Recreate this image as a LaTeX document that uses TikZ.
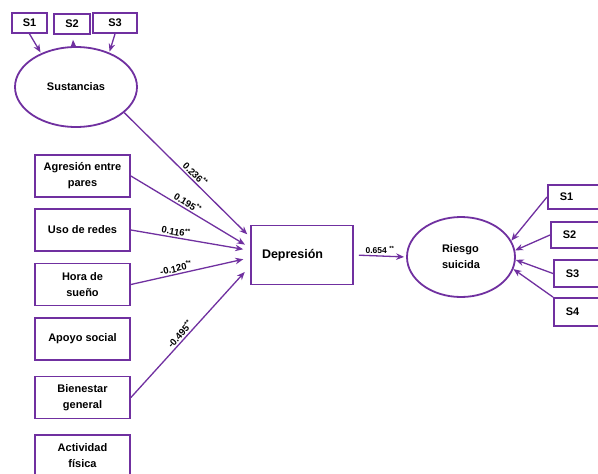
\documentclass[tikz,border=0pt]{standalone}
\usepackage{fontspec}
\setmainfont{Liberation Sans}
\usetikzlibrary{shapes.geometric,arrows.meta}
\definecolor{morado}{HTML}{7030A0}
\tikzset{
	box/.style={rectangle,draw=morado,line width=1.8pt,minimum width=95pt,minimum height=42pt,align=center,font=\fontsize{11}{16}\selectfont\bfseries},
	smallbox/.style={rectangle,draw=morado,line width=1.8pt,minimum height=20pt,inner sep=1pt,font=\fontsize{11}{13}\selectfont\bfseries},
	sidebox/.style={rectangle,draw=morado,line width=1.8pt,anchor=west,minimum width=60pt,minimum height=26pt,text width=36pt,align=left,font=\fontsize{11}{13}\selectfont\bfseries},
	latent/.style={ellipse,draw=morado,line width=1.8pt,inner sep=0pt,align=left,font=\fontsize{11}{16}\selectfont\bfseries},
	arr/.style={draw=morado,line width=1.3pt,-{Stealth[length=8pt,width=6.5pt]}},
	coef/.style={sloped,above,inner sep=1.5pt,font=\fontsize{9.5}{10}\selectfont\bfseries}
}
\begin{document}
\begin{tikzpicture}[x=1pt,y=-1pt]
	\clip (0,0) rectangle (598,474);
	\fill[white] (0,0) rectangle (598,474);
	\node (sust) at (76,87) [latent,minimum width=122pt,minimum height=80pt] {Sustancias};
	\node (s1) at (29.5,23) [smallbox,minimum width=35pt] {S1};
	\node (s2) at (72,24) [smallbox,minimum width=36pt] {S2};
	\node (s3) at (115,23) [smallbox,minimum width=44pt] {S3};
	\draw[arr,shorten >=1pt] (s1.south) -- (sust.136);
	\draw[arr,shorten >=5pt] (sust) -- (s2);
	\draw[arr,shorten >=1pt] (s3.south) -- (sust.46);

	\node (agr) at (82.5,176) [box] {Agresión entre\\pares};
	\node (uso) at (82.5,230) [box] {Uso de redes};
	\node (hora) at (82.5,284.5) [box] {Hora de\\sueño};
	\node (apoyo) at (82.5,339) [box] {Apoyo social};
	\node (bien) at (82.5,397.5) [box] {Bienestar\\general};
	\node (act) at (82.5,456) [box] {Actividad\\física};

	\node (dep) at (302,255) [rectangle,draw=morado,line width=1.8pt,minimum width=102pt,minimum height=59pt,text width=80pt,align=left,font=\fontsize{12.5}{15}\selectfont\bfseries] {Depresión};
	\draw[arr,shorten >=4pt] (sust.-28) -- node[coef,pos=0.53] {0.236\textsuperscript{**}} (dep.161);
	\draw[arr,shorten >=6pt] (agr.east) -- node[coef,pos=0.45] {0.195\textsuperscript{**}} (dep.172);
	\draw[arr,shorten >=7pt] (uso.east) -- node[coef,pos=0.37] {0.116\textsuperscript{**}} (dep.175);
	\draw[arr,shorten >=7pt] (hora.east) -- node[coef,pos=0.39] {-0.120\textsuperscript{**}} (dep.183);
	\draw[arr,shorten >=8pt] (bien.east) -- node[coef,pos=0.45] {-0.495\textsuperscript{**}} (dep.192);

	\node (riesgo) at (461,257) [latent,minimum width=108pt,minimum height=80pt] {Riesgo\\suicida};
	\draw[arr,shorten <=5pt,shorten >=2pt] (dep.east) -- node[above,inner sep=2pt,font=\fontsize{8.5}{9}\selectfont\bfseries] {0.654 \textsuperscript{**}} (riesgo.west);

	\node (r1) at (547,197) [sidebox,minimum height=24pt] {S1};
	\node (r2) at (550,235) [sidebox] {S2};
	\node (r3) at (553,273.5) [sidebox,minimum height=27pt] {S3};
	\node (r4) at (553,312) [sidebox,minimum height=28pt] {S4};
	\draw[arr] (r1.west) -- (riesgo.18);
	\draw[arr] (r2.west) -- (riesgo.7);
	\draw[arr] (r3.west) -- (riesgo.-3);
	\draw[arr] (r4.north west) -- (riesgo.-13);
\end{tikzpicture}
\end{document}
